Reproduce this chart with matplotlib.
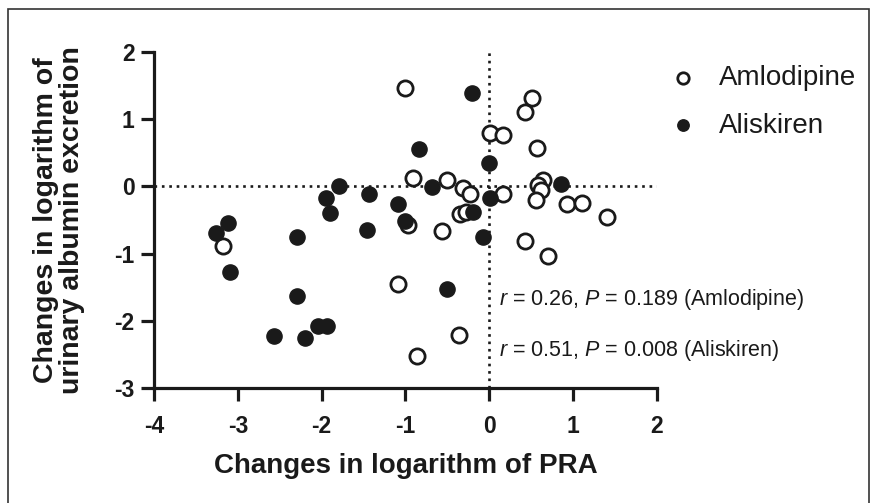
import matplotlib
matplotlib.use("Agg")
import matplotlib.pyplot as plt
from matplotlib.patches import Rectangle

# ---------------- data ----------------
amlo_x = [-1.01, 0.51, 0.42, 0.01, 0.16, 0.57, -0.91, -0.50, -0.31, -0.23, 0.16,
          0.64, 0.58, 0.62, 0.56, 0.93, 1.10, 1.40, -0.35, -0.28, -0.97, -0.56,
          0.42, 0.70, -3.18, -1.09, -0.36, -0.86]
amlo_y = [1.47, 1.32, 1.11, 0.80, 0.76, 0.57, 0.12, 0.10, -0.03, -0.12, -0.12,
          0.10, 0.02, -0.05, -0.20, -0.26, -0.24, -0.46, -0.41, -0.38, -0.58, -0.67,
          -0.81, -1.03, -0.88, -1.45, -2.21, -2.53]

alis_x = [-0.21, -0.84, 0.00, -0.68, 0.01, 0.86, -1.79, -1.95, -1.90, -1.43,
          -1.09, -1.00, -0.20, -0.08, -1.46, -3.12, -3.26, -3.09, -2.30, -2.30,
          -2.57, -2.20, -2.04, -1.94, -0.50]
alis_y = [1.39, 0.55, 0.35, -0.01, -0.17, 0.03, 0.00, -0.17, -0.39, -0.12,
          -0.26, -0.52, -0.38, -0.75, -0.65, -0.55, -0.69, -1.27, -0.75, -1.63,
          -2.23, -2.25, -2.07, -2.07, -1.53]

series_labels = ["Amlodipine", "Aliskiren"]
x_ticks = [-4, -3, -2, -1, 0, 1, 2]
y_ticks = [-3, -2, -1, 0, 1, 2]
x_label = "Changes in logarithm of PRA"
y_label = "Changes in logarithm of\nurinary albumin excretion"
stat_texts = [r"$r$ = 0.26, $P$ = 0.189 (Amlodipine)",
              r"$r$ = 0.51, $P$ = 0.008 (Aliskiren)"]

# ---------------- style ----------------
plt.rcParams['font.family'] = ['Liberation Sans', 'DejaVu Sans']
plt.rcParams['mathtext.fontset'] = 'custom'
plt.rcParams['mathtext.it'] = 'Liberation Sans:italic'
plt.rcParams['mathtext.rm'] = 'Liberation Sans'

W, H = 877, 503
fig = plt.figure(figsize=(W / 100, H / 100), dpi=100)
fig.patch.set_facecolor('white')

# outer frame
fig.patches.append(Rectangle((8 / W, -0.02), (869 - 8) / W, 1 - 9 / H + 0.02,
                             transform=fig.transFigure, fill=False,
                             edgecolor='#333333', linewidth=1.2, clip_on=False))

ax = fig.add_axes([154 / W, 1 - 388 / H, (657 - 154) / W, (388 - 52) / H])
ax.set_xlim(-4, 2)
ax.set_ylim(-3, 2)

dark = '#1a1a1a'
ax.axhline(0, color=dark, linestyle=(0, (1, 1.8)), linewidth=1.9, zorder=1)
ax.axvline(0, color=dark, linestyle=(0, (1, 1.8)), linewidth=1.9, zorder=1)

ms = 120
ax.scatter(amlo_x, amlo_y, s=ms, facecolors='white', edgecolors=dark,
           linewidths=2.0, zorder=3, label=series_labels[0], clip_on=False)
ax.scatter(alis_x, alis_y, s=ms, facecolors=dark, edgecolors=dark,
           linewidths=1.0, zorder=4, label=series_labels[1], clip_on=False)

for sp in ['top', 'right']:
    ax.spines[sp].set_visible(False)
for sp in ['left', 'bottom']:
    ax.spines[sp].set_linewidth(2.3)
    ax.spines[sp].set_color(dark)

ax.set_xticks(x_ticks)
ax.set_yticks(y_ticks)
ax.set_xticklabels([str(t) for t in x_ticks])
ax.set_yticklabels([str(t) for t in y_ticks])
ax.tick_params(axis='both', direction='out', length=9.5, width=2.3, color=dark,
               labelsize=16.5, labelcolor=dark)
ax.tick_params(axis='x', pad=10)
ax.tick_params(axis='y', pad=4.5)
for lab in ax.get_xticklabels() + ax.get_yticklabels():
    lab.set_fontweight('bold')

ax.set_xlabel(x_label, fontsize=20, fontweight='bold', color=dark, labelpad=11)
ax.set_ylabel(y_label, fontsize=20.5, fontweight='bold', color=dark, labelpad=21,
              linespacing=1.0)

ax.text(0.12, -1.68, stat_texts[0], fontsize=15.5, color=dark, va='center', ha='left')
ax.text(0.12, -2.44, stat_texts[1], fontsize=15.5, color=dark, va='center', ha='left')

leg = ax.legend(loc='upper left', bbox_to_anchor=(652 / W, 1 - 51 / H),
                bbox_transform=fig.transFigure, frameon=False, fontsize=20,
                markerscale=0.75, handletextpad=0.72, labelspacing=0.78,
                handlelength=1.2, borderpad=0)
for t in leg.get_texts():
    t.set_color(dark)

fig.savefig('out.png', dpi=100, facecolor='white')
